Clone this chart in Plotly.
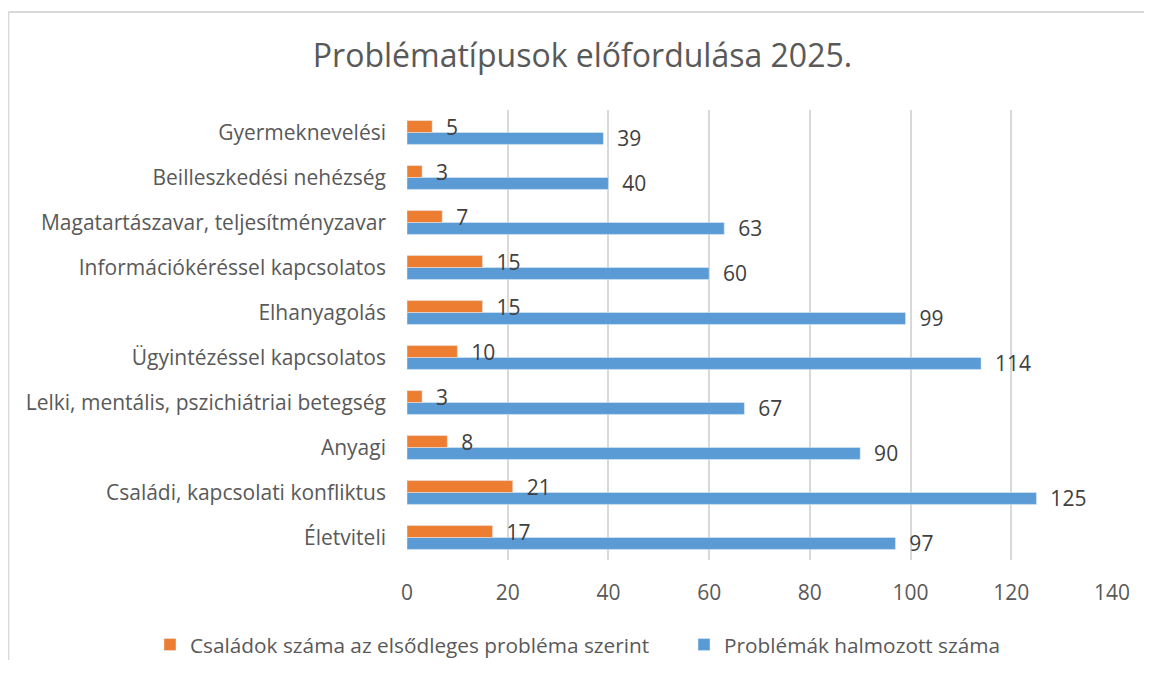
import plotly.graph_objects as go

categories = [
    "Életviteli",
    "Családi, kapcsolati konfliktus",
    "Anyagi",
    "Lelki, mentális, pszichiátriai betegség",
    "Ügyintézéssel kapcsolatos",
    "Elhanyagolás",
    "Információkéréssel kapcsolatos",
    "Magatartászavar, teljesítményzavar",
    "Beilleszkedési nehézség",
    "Gyermeknevelési",
]
csaladok = [17, 21, 8, 3, 10, 15, 15, 7, 3, 5]
problemak = [97, 125, 90, 67, 114, 99, 60, 63, 40, 39]
x_ticks = [0, 20, 40, 60, 80, 100, 120, 140]

FONT = "Open Sans"
NB = "\u00a0"

# page body has an 8px margin; figure sized to fit inside the window
W, H = 1144, 652
L, T = 399, 102
PLOT_RIGHT, PLOT_BOTTOM = 1104, 552
R, B = W - PLOT_RIGHT, H - PLOT_BOTTOM
pw, ph = W - L - R, H - T - B

def px2x(px):
    return (px - L) / pw

def py2y(py):
    return (H - B - py) / ph

fig = go.Figure()
fig.add_trace(go.Bar(
    y=categories, x=problemak, orientation="h",
    name="Problémák halmozott száma",
    marker=dict(color="#5B9BD5"),
    text=problemak, texttemplate=NB * 2 + "%{x}", textposition="outside",
    textfont=dict(family=FONT, size=21, color="#404040"),
    constraintext="none", cliponaxis=False, legendrank=2,
))
fig.add_trace(go.Bar(
    y=categories, x=csaladok, orientation="h",
    name="Családok száma az elsődleges probléma szerint",
    marker=dict(color="#ED7D31"),
    text=csaladok, texttemplate=NB * 2 + "%{x}", textposition="outside",
    textfont=dict(family=FONT, size=21, color="#404040"),
    constraintext="none", cliponaxis=False, legendrank=1,
))

border = dict(color="#D9D9D9", width=1.8)
fig.update_layout(
    width=W, height=H,
    margin=dict(l=L, r=R, t=T, b=B, autoexpand=False),
    paper_bgcolor="white", plot_bgcolor="white",
    barmode="group", bargap=0.47, bargroupgap=0,
    title=dict(text="Problématípusok előfordulása 2025.",
               x=574.5 / W, xanchor="center", y=1 - 48 / H, yanchor="middle",
               font=dict(family=FONT, size=32, color="#595959")),
    xaxis=dict(range=[0, 140], tickvals=x_ticks, showgrid=True,
               gridcolor="#D9D9D9", gridwidth=1.5, zeroline=False,
               showline=False, ticks="", ticklabelstandoff=18, automargin=False,
               tickfont=dict(family=FONT, size=21, color="#595959")),
    yaxis=dict(showgrid=False, showline=False, ticks="", ticklabelstandoff=20,
               automargin=False,
               tickfont=dict(family=FONT, size=21, color="#595959")),
    legend=dict(orientation="h", x=px2x(142), xanchor="left",
                y=py2y(637), yanchor="middle",
                font=dict(family=FONT, size=20.8, color="#595959"),
                itemwidth=30, entrywidth=489),
    showlegend=True,
    shapes=[
        dict(type="line", xref="paper", yref="paper",
             x0=px2x(0.5), x1=px2x(1300), y0=py2y(4), y1=py2y(4),
             line=border, layer="below"),
        dict(type="line", xref="paper", yref="paper",
             x0=px2x(0.5), x1=px2x(0.5), y0=py2y(4), y1=py2y(800),
             line=border, layer="below"),
    ],
)

fig.write_html("out.html")
